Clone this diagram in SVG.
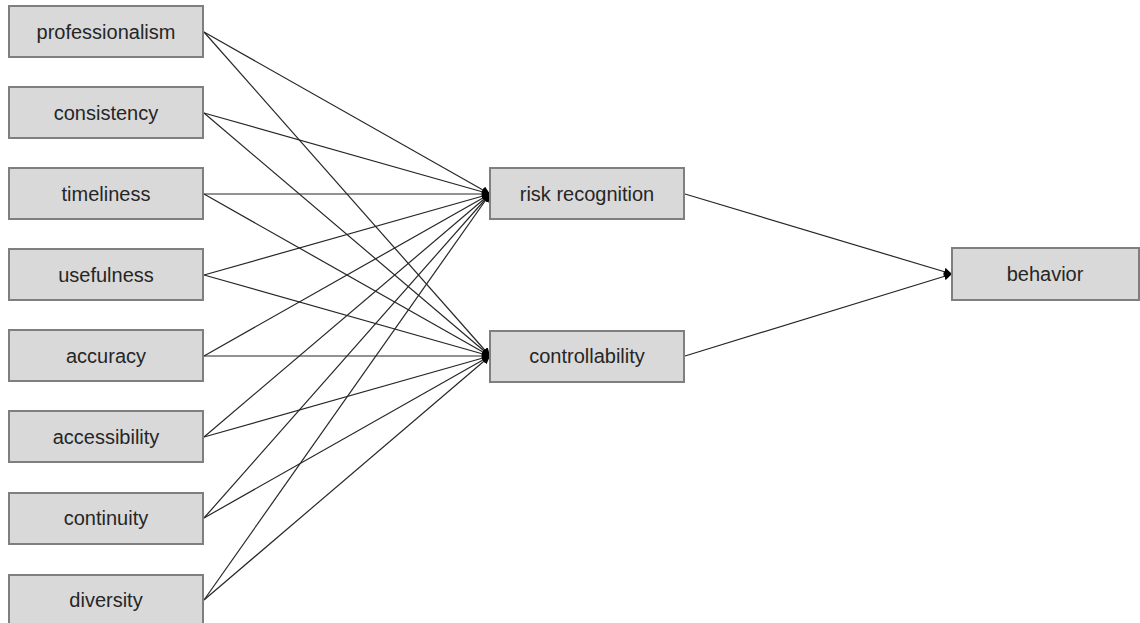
<svg xmlns="http://www.w3.org/2000/svg" width="1140" height="623" viewBox="0 0 1140 623">
<style>
.box{fill:#d9d9d9;stroke:#7f7f7f;stroke-width:2}
.lbl{font-family:"Liberation Sans",Arial,sans-serif;font-size:20px;fill:#262626;text-anchor:middle;dominant-baseline:central}
.edge{stroke:#262626;stroke-width:1.2;fill:none;marker-end:url(#arr)}
</style>
<defs>
<marker id="arr" markerUnits="userSpaceOnUse" markerWidth="9" markerHeight="8" refX="8" refY="4" orient="auto">
<path d="M0,0 L8,4 L0,8 Z" fill="#000"/>
</marker>
</defs>
<rect width="1140" height="623" fill="#fff"/>
<g id="connectors">
<line class="edge" x1="204" y1="32" x2="490" y2="194"/>
<line class="edge" x1="204" y1="32" x2="490" y2="356"/>
<line class="edge" x1="204" y1="113" x2="490" y2="194"/>
<line class="edge" x1="204" y1="113" x2="490" y2="356"/>
<line class="edge" x1="204" y1="194" x2="490" y2="194"/>
<line class="edge" x1="204" y1="194" x2="490" y2="356"/>
<line class="edge" x1="204" y1="275" x2="490" y2="194"/>
<line class="edge" x1="204" y1="275" x2="490" y2="356"/>
<line class="edge" x1="204" y1="356" x2="490" y2="194"/>
<line class="edge" x1="204" y1="356" x2="490" y2="356"/>
<line class="edge" x1="204" y1="437" x2="490" y2="194"/>
<line class="edge" x1="204" y1="437" x2="490" y2="356"/>
<line class="edge" x1="204" y1="518" x2="490" y2="194"/>
<line class="edge" x1="204" y1="518" x2="490" y2="356"/>
<line class="edge" x1="204" y1="600" x2="490" y2="194"/>
<line class="edge" x1="204" y1="600" x2="490" y2="356"/>
<line class="edge" x1="685" y1="194" x2="952" y2="274"/>
<line class="edge" x1="685" y1="356" x2="952" y2="274"/>
</g>
<g id="professionalism"><rect class="box" x="9" y="6" width="194" height="51"/><text class="lbl" x="106" y="32">professionalism</text></g>
<g id="consistency"><rect class="box" x="9" y="87" width="194" height="51"/><text class="lbl" x="106" y="113">consistency</text></g>
<g id="timeliness"><rect class="box" x="9" y="168" width="194" height="51"/><text class="lbl" x="106" y="194">timeliness</text></g>
<g id="usefulness"><rect class="box" x="9" y="249" width="194" height="51"/><text class="lbl" x="106" y="275">usefulness</text></g>
<g id="accuracy"><rect class="box" x="9" y="330" width="194" height="51"/><text class="lbl" x="106" y="356">accuracy</text></g>
<g id="accessibility"><rect class="box" x="9" y="411" width="194" height="51"/><text class="lbl" x="106" y="437">accessibility</text></g>
<g id="continuity"><rect class="box" x="9" y="493" width="194" height="51"/><text class="lbl" x="106" y="518">continuity</text></g>
<g id="diversity"><rect class="box" x="9" y="575" width="194" height="51"/><text class="lbl" x="106" y="600">diversity</text></g>
<g id="risk_recognition"><rect class="box" x="490" y="168" width="194" height="51"/><text class="lbl" x="587" y="194">risk recognition</text></g>
<g id="controllability"><rect class="box" x="490" y="331" width="194" height="51"/><text class="lbl" x="587" y="356">controllability</text></g>
<g id="behavior"><rect class="box" x="952" y="248" width="187" height="52"/><text class="lbl" x="1045" y="274">behavior</text></g>
</svg>
